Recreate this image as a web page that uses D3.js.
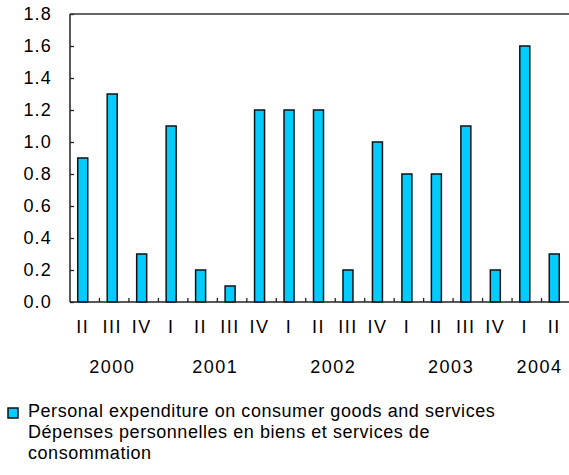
<!DOCTYPE html>
<html>
<head>
<meta charset="utf-8">
<script src="https://cdn.jsdelivr.net/npm/d3@7"></script>
<style>
  body { margin: 0; background: #fff; }
  text { font-family: "Liberation Sans", Arial, sans-serif; fill: #000; }
</style>
</head>
<body>
<svg id="chart"></svg>
<script>
// quarters, values and year groups
const quarters = ["II","III","IV","I","II","III","IV","I","II","III","IV","I","II","III","IV","I","II"];
const values = [0.9, 1.3, 0.3, 1.1, 0.2, 0.1, 1.2, 1.2, 1.2, 0.2, 1.0, 0.8, 0.8, 1.1, 0.2, 1.6, 0.3];
const years = ["2000","2001","2002","2003","2004"];
const yearSpan = [[0, 2], [3, 6], [7, 10], [11, 14], [15, 16]];
const yTicks = [0, 0.2, 0.4, 0.6, 0.8, 1.0, 1.2, 1.4, 1.6, 1.8];
const legendLines = [
  "Personal expenditure on consumer goods and services",
  "Dépenses personnelles en biens et services de",
  "consommation"
];

const W = 569, H = 475;
const plotL = 70, plotT = 14, plotR = 571, plotB = 302;

const svg = d3.select("#chart").attr("width", W).attr("height", H);

const idx = d3.range(values.length);
const x = d3.scaleBand().domain(idx).range([plotL, plotR]);
const y = d3.scaleLinear().domain([0, 1.8]).range([plotB, plotT]);
const barW = 10;

// bars
svg.selectAll(".bar")
  .data(idx)
  .enter().append("rect")
  .attr("class", "bar")
  .attr("x", i => x(i) + x.bandwidth() / 2 - barW / 2 - 2)
  .attr("y", i => y(values[i]))
  .attr("width", barW)
  .attr("height", i => plotB - y(values[i]))
  .attr("fill", "#00ccff")
  .attr("stroke", "#111")
  .attr("stroke-width", 1.5);

// y axis, ticks pointing in
const yAxis = svg.append("g")
  .attr("transform", `translate(${plotL},0)`)
  .call(d3.axisRight(y).tickValues(yTicks).tickSize(4).tickFormat(""));
yAxis.select(".domain").remove();
yAxis.selectAll("line").attr("stroke", "#222").attr("stroke-width", 1.3);

svg.selectAll(".ylab")
  .data(yTicks)
  .enter().append("text")
  .attr("class", "ylab")
  .attr("x", 52)
  .attr("y", d => y(d) + 6)
  .attr("text-anchor", "end")
  .attr("font-size", 18)
  .attr("letter-spacing", 1.2)
  .text(d => d.toFixed(1));

// frame lines: left axis, top line, baseline
svg.append("line").attr("x1", plotL).attr("x2", plotL).attr("y1", plotT).attr("y2", plotB)
  .attr("stroke", "#222").attr("stroke-width", 1.5);
svg.append("line").attr("x1", plotL).attr("x2", W).attr("y1", plotT).attr("y2", plotT)
  .attr("stroke", "#333").attr("stroke-width", 1.5);
svg.append("line").attr("x1", plotL).attr("x2", W).attr("y1", plotB).attr("y2", plotB)
  .attr("stroke", "#222").attr("stroke-width", 1.5);

// x ticks between quarters, pointing up
svg.selectAll(".xtick")
  .data(idx.slice(1))
  .enter().append("line")
  .attr("x1", i => x(i)).attr("x2", i => x(i))
  .attr("y1", plotB).attr("y2", plotB - 4)
  .attr("stroke", "#222").attr("stroke-width", 1.3);

// quarter labels
svg.selectAll(".qlab")
  .data(idx)
  .enter().append("text")
  .attr("x", i => x(i) + x.bandwidth() / 2 - 2)
  .attr("y", 333)
  .attr("text-anchor", "middle")
  .attr("font-size", 18)
  .attr("letter-spacing", 1.5)
  .text(i => quarters[i]);

// year labels centred under their quarters
svg.selectAll(".ylabel")
  .data(years)
  .enter().append("text")
  .attr("x", (d, k) => (x(yearSpan[k][0]) + x(yearSpan[k][1]) + x.bandwidth()) / 2 - 2)
  .attr("y", 373)
  .attr("text-anchor", "middle")
  .attr("font-size", 18)
  .attr("letter-spacing", 1.5)
  .text(d => d);

// legend
svg.append("rect").attr("x", 8).attr("y", 408).attr("width", 10).attr("height", 10)
  .attr("fill", "#00ccff").attr("stroke", "#111").attr("stroke-width", 1.5);
svg.selectAll(".leg")
  .data(legendLines)
  .enter().append("text")
  .attr("x", 28)
  .attr("y", (d, i) => 417 + i * 21)
  .attr("font-size", 18)
  .attr("letter-spacing", 0.55)
  .text(d => d);
</script>
</body>
</html>
